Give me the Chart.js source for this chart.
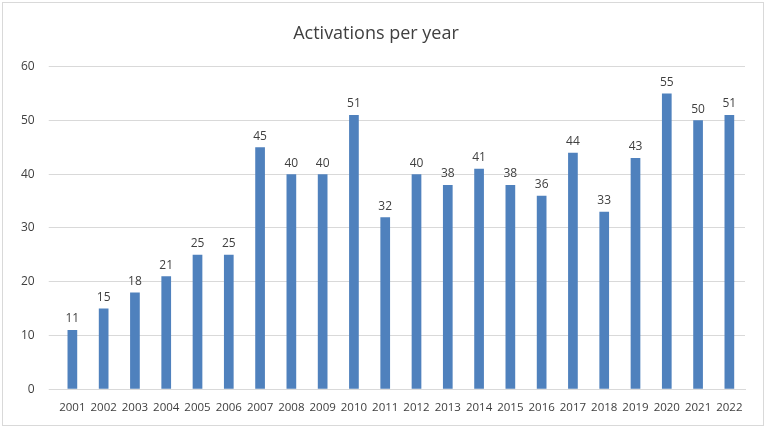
<!DOCTYPE html>
<html><head><meta charset="utf-8">
<script src="https://cdn.jsdelivr.net/npm/chart.js@4"></script>
<style>
html,body{margin:0;padding:0;background:#fff;}
#wrap{position:absolute;left:2px;top:2px;width:762px;height:424px;border:1px solid #d9d9d9;box-sizing:border-box;}
</style></head><body>
<div id="wrap"><canvas id="c"></canvas></div>
<script>
const categories=['2001','2002','2003','2004','2005','2006','2007','2008','2009','2010','2011','2012','2013','2014','2015','2016','2017','2018','2019','2020','2021','2022'];
const activations=[11,15,18,21,25,25,45,40,40,51,32,40,38,41,38,36,44,33,43,55,50,51];
const labelsPlugin={id:'lbl',afterDatasetsDraw(ch){const ctx=ch.ctx;const m=ch.getDatasetMeta(0);ctx.save();ctx.font='12px "Open Sans", Calibri, sans-serif';ctx.fillStyle='#404040';ctx.textAlign='center';ctx.textBaseline='bottom';m.data.forEach((b,i)=>ctx.fillText(activations[i],b.x,b.y-5));ctx.restore();}};
new Chart(document.getElementById('c'),{type:'bar',data:{labels:categories,datasets:[{data:activations,backgroundColor:'#4f81bd',barPercentage:0.62,categoryPercentage:0.5}]},
options:{responsive:true,maintainAspectRatio:false,animation:false,
layout:{padding:{left:4,right:18,top:8,bottom:6}},
plugins:{legend:{display:false},tooltip:{enabled:false},title:{display:true,text:'Activations per year',color:'#404040',font:{family:'"Open Sans", Calibri, sans-serif',size:18,weight:'normal'},padding:{top:12,bottom:22}}},
scales:{x:{grid:{display:false},border:{color:'#d9d9d9'},ticks:{color:'#404040',font:{family:'"Open Sans", sans-serif',size:11.5},maxRotation:0,autoSkip:false,padding:4}},
y:{min:0,max:60,ticks:{stepSize:10,color:'#404040',font:{family:'"Open Sans", sans-serif',size:12},padding:14},grid:{color:'#d9d9d9'},border:{display:false}}}},
plugins:[labelsPlugin]});
</script></body></html>
